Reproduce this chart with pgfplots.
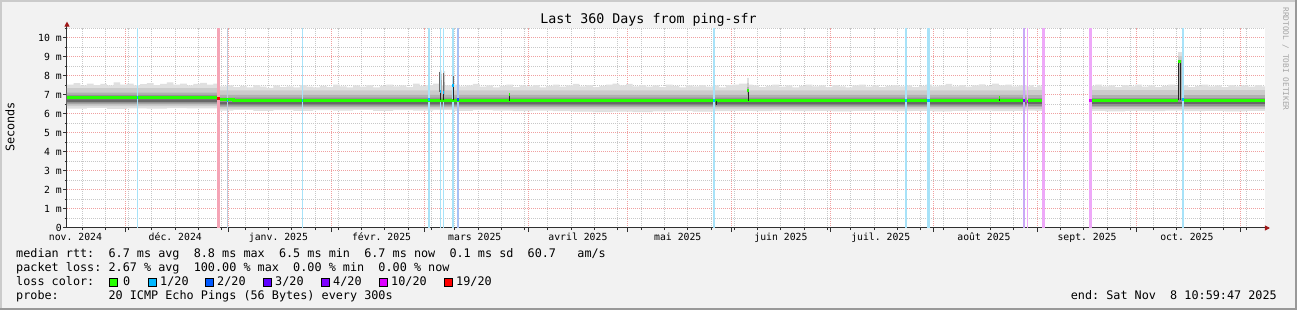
\documentclass[border=0pt]{standalone}
\usepackage{fontspec}
\setmainfont{DejaVu Sans Mono}
\usepackage{pgfplots}
\pgfplotsset{compat=1.18}
\usetikzlibrary{arrows.meta,backgrounds}
\frenchspacing
\definecolor{bgc}{HTML}{F2F2F2}
\definecolor{shadea}{HTML}{CBCBCB}
\definecolor{shadeb}{HTML}{999999}
\definecolor{mgridc}{HTML}{F0A0A0}
\definecolor{gridc}{HTML}{C8C8C8}
\definecolor{axisc}{HTML}{303030}
\definecolor{arrowc}{HTML}{A01818}
\definecolor{sm1}{HTML}{E0E0E0}
\definecolor{sm2}{HTML}{CBCBCB}
\definecolor{sm3}{HTML}{B0B0B0}
\definecolor{sm4}{HTML}{929292}
\definecolor{sm5}{HTML}{686868}
\definecolor{lc0}{HTML}{26FF00}
\definecolor{lc1}{HTML}{00B8FF}
\definecolor{lc2}{HTML}{0059FF}
\definecolor{lc3}{HTML}{5E00FF}
\definecolor{lc4}{HTML}{7E00FF}
\definecolor{lc10}{HTML}{DD00FF}
\definecolor{lc19}{HTML}{FF0000}
\definecolor{st1}{HTML}{A8E2F8}
\definecolor{st1g}{HTML}{BCCCDC}
\definecolor{st2}{HTML}{A8C0F4}
\definecolor{st4}{HTML}{CAA8F6}
\definecolor{st10}{HTML}{EEA8F8}
\definecolor{st19}{HTML}{F5A4B6}
\newcommand\legfont{\fontsize{11.8}{14}\selectfont}
\newcommand\axfont{\fontsize{9.8}{12}\selectfont}
\newcommand\tifont{\fontsize{13.3}{16}\selectfont}
\newcommand\wmfont{\fontsize{7.8}{9}\selectfont}
\begin{document}
\begin{tikzpicture}[x=1pt,y=1pt]
\begin{axis}[
  scale only axis,
  width=1198pt, height=200.45pt,
  xmin=0, xmax=360, ymin=0, ymax=10.55,
  axis background/.style={fill=white},
  axis x line*=bottom, axis y line*=left,
  x axis line style={draw=axisc, line width=1pt, -{Triangle[length=5pt,width=5pt,color=arrowc]}, shorten >=-5pt},
  y axis line style={draw=axisc, line width=1pt, -{Triangle[length=5pt,width=5pt,color=arrowc]}, shorten >=-6pt},
  xtick={17.54,48.54,79.54,107.54,138.54,168.54,199.54,229.54,260.54,291.54,321.54,352.54},
  xticklabels={},
  minor xtick={4.54,11.54,...,354.54},
  extra x ticks={2.54,32.54,63.54,94.54,122.54,153.54,183.54,214.54,244.54,275.54,306.54,336.54},
  extra x tick labels={nov. 2024,déc. 2024,janv. 2025,févr. 2025,mars 2025,avril 2025,mai 2025,juin 2025,juil. 2025,août 2025,sept. 2025,oct. 2025},
  extra x tick style={grid=none, major tick length=0pt},
  ytick={0,1,...,10},
  yticklabels={0,1 m,2 m,3 m,4 m,5 m,6 m,7 m,8 m,9 m,10 m},
  minor ytick={0.5,1.5,...,10.5},
  xmajorgrids, xminorgrids, ymajorgrids, yminorgrids,
  major grid style={draw=mgridc, line width=1pt, dash pattern=on 1pt off 1pt},
  minor grid style={draw=gridc, line width=1pt, dash pattern=on 1pt off 1pt},
  tick align=outside, major tick length=4pt, minor tick length=2pt,
  tick style={draw=axisc, line width=1pt},
  tick label style={font=\axfont, text=black},
  xticklabel style={anchor=base, inner sep=0pt, yshift=-12.5pt},
  yticklabel style={anchor=east, inner sep=0pt, xshift=-1pt},
  unbounded coords=jump,
]
\coordinate (O) at (axis cs:0,0);
% ---- smoke layer 1 (outer, jagged)
\addplot[fill=sm1, draw=none, const plot] coordinates {
(0,7.55)(2,7.62)(4,7.5)(6,7.6)(8,7.52)(10,7.58)(12,7.5)(14,7.66)(16,7.55)(18,7.6)(20,7.5)(22,7.57)(24,7.62)(26,7.52)(28,7.58)(30,7.66)(32,7.54)(34,7.6)(36,7.5)(38,7.58)(40,7.64)(42,7.54)(44,7.6)(45.4,7.45)(48,7.5)(50,7.42)(52,7.48)(54,7.4)(56,7.52)(58,7.44)(60,7.38)(62,7.5)(64,7.42)(66,7.46)(68,7.4)(70,7.52)(72,7.44)(74,7.4)(76,7.48)(78,7.42)(80,7.55)(82,7.45)(84,7.4)(86,7.5)(88,7.44)(90,7.52)(92,7.4)(94,7.48)(96,7.55)(98,7.45)(100,7.5)(102,7.42)(104,7.6)(106,7.48)(108,7.52)(110,7.6)(112,8.3)(112.6,7.5)(113.1,8.25)(113.6,7.5)(115.8,8.5)(116.4,7.55)(118,7.45)(120,7.5)(122,7.58)(124,7.44)(126,7.5)(128,7.4)(130,7.48)(132,7.55)(134,7.42)(136,7.5)(138,7.46)(140,7.52)(142,7.4)(144,7.48)(146,7.55)(148,7.44)(150,7.5)(152,7.58)(154,7.45)(156,7.52)(158,7.42)(160,7.48)(162,7.55)(164,7.6)(166,7.5)(168,7.58)(170,7.46)(172,7.52)(174,7.44)(176,7.5)(178,7.42)(180,7.55)(182,7.48)(184,7.4)(186,7.5)(188,7.46)(190,7.52)(192,7.44)(194,7.5)(196,7.4)(198,7.52)(200,7.55)(202,7.6)(204.4,7.9)(204.9,7.55)(206,7.5)(208,7.42)(210,7.48)(212,7.54)(214,7.44)(216,7.5)(218,7.4)(220,7.48)(222,7.55)(224,7.45)(226,7.5)(228,7.42)(230,7.52)(232,7.46)(234,7.4)(236,7.5)(238,7.55)(240,7.44)(242,7.5)(244,7.42)(246,7.48)(248,7.52)(250,7.45)(252,7.5)(254,7.42)(256,7.48)(258,7.55)(260,7.45)(262,7.5)(264,7.58)(266,7.46)(268,7.52)(270,7.44)(272,7.5)(274,7.56)(276,7.48)(278,7.6)(280,7.5)(282,7.55)(284,7.46)(286,7.5)(288.4,7.5)
(288.4,6.17)(284,6.15)(278,6.18)(272,6.16)(266,6.14)(260,6.17)(254,6.15)(248,6.18)(242,6.16)(236,6.14)(230,6.17)(224,6.15)(218,6.18)(212,6.15)(206,6.17)(200,6.15)(194,6.13)(188,6.16)(182,6.14)(176,6.1)(170,6.12)(164,6.1)(158,6.12)(152,6.15)(146,6.18)(140,6.15)(134,6.18)(128,6.2)(122,6.16)(116,6.2)(110,6.18)(104,6.2)(98,6.17)(92,6.22)(86,6.18)(80,6.2)(74,6.16)(68,6.2)(62,6.17)(56,6.22)(50,6.18)(45.4,6.3)(42,6.29)(36,6.31)(30,6.28)(24,6.3)(18,6.27)(12,6.32)(6,6.28)(0,6.3)
} -- cycle;
\addplot[fill=sm1, draw=none, const plot] coordinates {
(288.4,7.45)(289.5,7.52)(290.5,7.42)(291.5,7.5)(292.5,7.46)(293.3,7.46)(293.3,6.16)(291,6.18)(288.4,6.18)} -- cycle;
\addplot[fill=sm1, draw=none, const plot] coordinates {
(307.2,7.48)(309,7.55)(311,7.45)(313,7.5)(315,7.42)(317,7.52)(319,7.46)(321,7.55)(323,7.44)(325,7.5)(327,7.42)(329,7.48)(331,7.54)(333,7.45)(333.9,9.26)(335,7.5)(337,7.42)(339,7.48)(341,7.55)(343,7.45)(345,7.5)(347,7.42)(349,7.52)(351,7.46)(353,7.5)(355,7.44)(357,7.52)(359,7.46)(360,7.46)
(360,6.16)(354,6.14)(348,6.17)(342,6.15)(336,6.18)(330,6.15)(324,6.17)(318,6.14)(312,6.16)(307.2,6.16)} -- cycle;
% ---- smoke layer 2
\addplot[fill=sm2, draw=none] coordinates {(0,7.36)(45.4,7.36)(45.4,7.24)(288.4,7.24)(288.4,6.28)(45.4,6.28)(45.4,6.42)(0,6.42)} -- cycle;
\addplot[fill=sm2, draw=none] coordinates {(288.4,7.24)(293.3,7.24)(293.3,6.28)(288.4,6.28)} -- cycle;
\addplot[fill=sm2, draw=none] coordinates {(307.2,7.24)(360,7.24)(360,6.28)(307.2,6.28)} -- cycle;
% ---- smoke layer 3
\addplot[fill=sm3, draw=none] coordinates {(0,7.12)(45.4,7.12)(45.4,7.0)(288.4,7.0)(288.4,6.37)(45.4,6.37)(45.4,6.5)(0,6.5)} -- cycle;
\addplot[fill=sm3, draw=none] coordinates {(288.4,7.0)(293.3,7.0)(293.3,6.37)(288.4,6.37)} -- cycle;
\addplot[fill=sm3, draw=none] coordinates {(307.2,7.0)(360,7.0)(360,6.37)(307.2,6.37)} -- cycle;
% ---- smoke layer 4
\addplot[fill=sm4, draw=none] coordinates {(0,7.0)(45.4,7.0)(45.4,6.86)(288.4,6.86)(288.4,6.44)(45.4,6.44)(45.4,6.56)(0,6.56)} -- cycle;
\addplot[fill=sm4, draw=none] coordinates {(288.4,6.86)(293.3,6.86)(293.3,6.44)(288.4,6.44)} -- cycle;
\addplot[fill=sm4, draw=none] coordinates {(307.2,6.86)(360,6.86)(360,6.44)(307.2,6.44)} -- cycle;
% ---- smoke layer 5 (dark, below median)
\addplot[fill=sm5, draw=none] coordinates {(0,6.77)(45.4,6.77)(45.4,6.62)(288.4,6.62)(288.4,6.5)(45.4,6.5)(45.4,6.64)(0,6.64)} -- cycle;
\addplot[fill=sm5, draw=none] coordinates {(288.4,6.62)(293.3,6.62)(293.3,6.5)(288.4,6.5)} -- cycle;
\addplot[fill=sm5, draw=none] coordinates {(307.2,6.62)(360,6.62)(360,6.5)(307.2,6.5)} -- cycle;
% ---- spike smoke columns
\addplot[fill=sm2, draw=none] coordinates {(112,7.2)(112,8.1)(112.6,8.1)(112.6,7.2)} -- cycle;
\addplot[fill=sm2, draw=none] coordinates {(113.1,7.2)(113.1,8.05)(113.6,8.05)(113.6,7.2)} -- cycle;
\addplot[fill=sm2, draw=none] coordinates {(115.8,7.2)(115.8,8.3)(116.4,8.3)(116.4,7.2)} -- cycle;
\addplot[fill=sm2, draw=none] coordinates {(204.4,7.2)(204.4,7.65)(204.9,7.65)(204.9,7.2)} -- cycle;
\addplot[fill=sm2, draw=none] coordinates {(333.9,7.2)(333.9,9.05)(335,9.05)(335,7.2)} -- cycle;
\addplot[fill=sm3, draw=none] coordinates {(112,7.0)(112,7.8)(112.6,7.8)(112.6,7.0)} -- cycle;
\addplot[fill=sm3, draw=none] coordinates {(113.1,7.0)(113.1,7.7)(113.6,7.7)(113.6,7.0)} -- cycle;
\addplot[fill=sm3, draw=none] coordinates {(115.8,7.0)(115.8,7.95)(116.4,7.95)(116.4,7.0)} -- cycle;
\addplot[fill=sm3, draw=none] coordinates {(204.4,7.0)(204.4,7.4)(204.9,7.4)(204.9,7.0)} -- cycle;
\addplot[fill=sm3, draw=none] coordinates {(333.9,7.0)(333.9,8.85)(335,8.85)(335,7.0)} -- cycle;
% ---- loss stripes
\addplot[fill=st1, draw=none] coordinates {(20.9,0)(20.9,10.55)(21.3,10.55)(21.3,0)} -- cycle;
\addplot[fill=st19, draw=none] coordinates {(45.1,0)(45.1,10.55)(46.0,10.55)(46.0,0)} -- cycle;
\addplot[fill=st1g, draw=none] coordinates {(48.1,0)(48.1,10.55)(48.45,10.55)(48.45,0)} -- cycle;
\addplot[fill=st1, draw=none] coordinates {(70.5,0)(70.5,10.55)(70.9,10.55)(70.9,0)} -- cycle;
\addplot[fill=st1, draw=none] coordinates {(108.5,0)(108.5,10.55)(109.2,10.55)(109.2,0)} -- cycle;
\addplot[fill=st1, draw=none] coordinates {(112.1,0)(112.1,10.55)(112.5,10.55)(112.5,0)} -- cycle;
\addplot[fill=st1, draw=none] coordinates {(113.0,0)(113.0,10.55)(113.4,10.55)(113.4,0)} -- cycle;
\addplot[fill=st1, draw=none] coordinates {(115.8,0)(115.8,10.55)(116.3,10.55)(116.3,0)} -- cycle;
\addplot[fill=st2, draw=none] coordinates {(117.3,0)(117.3,10.55)(117.8,10.55)(117.8,0)} -- cycle;
\addplot[fill=st1, draw=none] coordinates {(194.1,0)(194.1,10.55)(194.7,10.55)(194.7,0)} -- cycle;
\addplot[fill=st1, draw=none] coordinates {(251.8,0)(251.8,10.55)(252.4,10.55)(252.4,0)} -- cycle;
\addplot[fill=st1, draw=none] coordinates {(258.4,0)(258.4,10.55)(259.2,10.55)(259.2,0)} -- cycle;
\addplot[fill=st4, draw=none] coordinates {(287.2,0)(287.2,10.55)(287.9,10.55)(287.9,0)} -- cycle;
\addplot[fill=st10, draw=none] coordinates {(288.4,0)(288.4,10.55)(288.9,10.55)(288.9,0)} -- cycle;
\addplot[fill=st10, draw=none] coordinates {(293.1,0)(293.1,10.55)(293.9,10.55)(293.9,0)} -- cycle;
\addplot[fill=st10, draw=none] coordinates {(307.2,0)(307.2,10.55)(307.9,10.55)(307.9,0)} -- cycle;
\addplot[fill=st1, draw=none] coordinates {(335.2,0)(335.2,10.55)(335.8,10.55)(335.8,0)} -- cycle;
% ---- grey spike traces above the medians
\addplot[sm5, line width=1pt] coordinates {(112.0,7.17)(112.0,8.2)(112.0,nan)(113.05,7.12)(113.05,8.15)(113.05,nan)(116.1,7.5)(116.1,8.0)};
% ---- median (green, const)
\addplot[lc0, line width=3pt, const plot] coordinates {(0,6.86)(2.5,6.88)(5,6.86)(9,6.87)(12,6.85)(15,6.86)(19,6.85)(23,6.86)(27,6.87)(31,6.86)(35,6.85)(39,6.86)(43,6.86)(45.1,6.86)};
\addplot[lc0, line width=3pt, const plot] coordinates {(46,6.74)(50,6.73)(56,6.72)(62,6.73)(68,6.72)(74,6.71)(80,6.72)(86,6.71)(92,6.72)(98,6.71)(104,6.72)(110,6.71)(118,6.72)(124,6.71)(130,6.72)(136,6.70)(142,6.71)(148,6.70)(154,6.69)(160,6.70)(166,6.69)(172,6.70)(178,6.70)(184,6.71)(190,6.70)(196,6.71)(202,6.70)(208,6.71)(214,6.72)(220,6.71)(226,6.72)(232,6.71)(238,6.72)(244,6.71)(250,6.72)(256,6.71)(262,6.72)(268,6.71)(274,6.72)(280,6.71)(287.2,6.71)};
\addplot[lc0, line width=3pt, const plot] coordinates {(288.9,6.71)(291,6.72)(293.1,6.72)};
\addplot[lc0, line width=3pt, const plot] coordinates {(307.9,6.72)(312,6.71)(318,6.72)(324,6.71)(330,6.72)(333.9,6.72)};
\addplot[lc0, line width=3pt, const plot] coordinates {(335.8,6.71)(340,6.72)(346,6.71)(352,6.72)(360,6.72)};
% ---- dark spike verticals
\addplot[black!85, line width=1pt] coordinates {(112.3,6.72)(112.3,7.17)(112.3,nan)(113.25,6.72)(113.25,7.12)(113.25,nan)(116.05,6.72)(116.05,7.5)(116.05,nan)(204.65,6.7)(204.65,7.26)(204.65,nan)(334.05,6.72)(334.05,8.75)(334.05,nan)(334.65,6.72)(334.65,8.75)(334.65,nan)(133.05,6.7)(133.05,7.0)(133.05,nan)(280.3,6.7)(280.3,6.86)(280.3,nan)(195.3,6.7)(195.3,6.47)};
% ---- median markers coloured by loss
\addplot[lc0, line width=3pt] coordinates {(204.45,7.26)(204.85,7.26)(204.85,nan)(333.95,8.75)(334.75,8.75)(334.75,nan)(132.9,7.0)(133.2,7.0)(133.2,nan)(280.15,6.86)(280.45,6.86)};
\addplot[lc1, line width=3pt] coordinates {(20.9,6.86)(21.3,6.86)(21.3,nan)(48.1,6.73)(48.5,6.73)(48.5,nan)(70.5,6.72)(70.9,6.72)(70.9,nan)(108.5,6.77)(109.2,6.77)(109.2,nan)(112.1,7.17)(112.5,7.17)(112.5,nan)(113.0,7.12)(113.4,7.12)(113.4,nan)(115.8,7.5)(116.3,7.5)(116.3,nan)(194.1,6.7)(194.7,6.7)(194.7,nan)(251.8,6.7)(252.4,6.7)(252.4,nan)(258.4,6.7)(259.2,6.7)(259.2,nan)(335.2,6.76)(335.8,6.76)};
\addplot[lc2, line width=3pt] coordinates {(117.3,6.76)(117.8,6.76)};
\addplot[lc19, line width=3pt] coordinates {(45.1,6.8)(46.0,6.8)};
\addplot[lc4, line width=3pt] coordinates {(287.2,6.7)(287.9,6.7)};
\addplot[lc10, line width=3pt] coordinates {(288.4,6.68)(288.9,6.68)(288.9,nan)(307.2,6.72)(307.9,6.72)};
\end{axis}
\begin{scope}[on background layer, shift={(O)}, shift={(-67,-82)}]
\fill[bgc] (0,0) rectangle (1297,310);
\fill[shadea] (0,0) rectangle (2,310);
\fill[shadea] (0,308) rectangle (1297,310);
\fill[shadeb] (1295,0) rectangle (1297,310);
\fill[shadeb] (0,0) rectangle (1297,2);
\end{scope}
\begin{scope}[shift={(O)}, shift={(-67,-82)}]
\node[anchor=base, inner sep=0pt] at (648.5,286) {\tifont Last~360~Days~from~ping-sfr};
\node[anchor=base, rotate=90, inner sep=0pt] at (14.5,183) {\legfont Seconds};
\node[anchor=base, rotate=-90, inner sep=0pt, text=black!35] at (1283,251) {\wmfont RRDTOOL~/~TOBI~OETIKER};
\node[anchor=base west, inner sep=0pt] at (16,52) {\legfont median~rtt:~~6.7~ms~avg~~8.8~ms~max~~6.5~ms~min~~6.7~ms~now~~0.1~ms~sd~~60.7~~~am/s};
\node[anchor=base west, inner sep=0pt] at (16,38.3) {\legfont packet~loss:~2.67~\%~avg~~100.00~\%~max~~0.00~\%~min~~0.00~\%~now};
\node[anchor=base west, inner sep=0pt] at (16,24.6) {\legfont loss~color:};
\node[anchor=base west, inner sep=0pt] at (16,11) {\legfont probe:~~~~~~~20~ICMP~Echo~Pings~(56~Bytes)~every~300s};
\node[anchor=base east, inner sep=0pt] at (1277,11) {\legfont end:~Sat~Nov~~8~10:59:47~2025};
\fill[lc0, draw=black, line width=0.8pt] (109,23.6) rectangle ++(8,8);
\node[anchor=base west, inner sep=0pt] at (123,24.6) {\legfont 0};
\fill[lc1, draw=black, line width=0.8pt] (148,23.6) rectangle ++(8,8);
\node[anchor=base west, inner sep=0pt] at (160,24.6) {\legfont 1/20};
\fill[lc2, draw=black, line width=0.8pt] (205,23.6) rectangle ++(8,8);
\node[anchor=base west, inner sep=0pt] at (217,24.6) {\legfont 2/20};
\fill[lc3, draw=black, line width=0.8pt] (263,23.6) rectangle ++(8,8);
\node[anchor=base west, inner sep=0pt] at (275,24.6) {\legfont 3/20};
\fill[lc4, draw=black, line width=0.8pt] (321,23.6) rectangle ++(8,8);
\node[anchor=base west, inner sep=0pt] at (333,24.6) {\legfont 4/20};
\fill[lc10, draw=black, line width=0.8pt] (379,23.6) rectangle ++(8,8);
\node[anchor=base west, inner sep=0pt] at (391,24.6) {\legfont 10/20};
\fill[lc19, draw=black, line width=0.8pt] (444,23.6) rectangle ++(8,8);
\node[anchor=base west, inner sep=0pt] at (456,24.6) {\legfont 19/20};
\end{scope}
\end{tikzpicture}
\end{document}
